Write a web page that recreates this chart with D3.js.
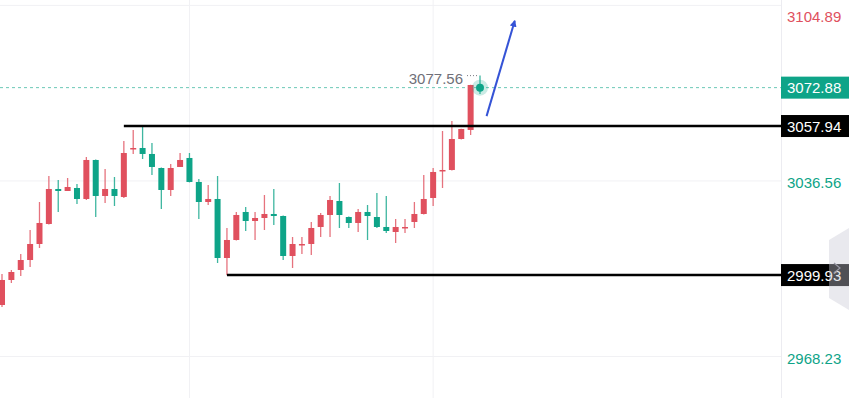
<!DOCTYPE html>
<html>
<head>
<meta charset="utf-8">
<script src="https://cdn.jsdelivr.net/npm/d3@7"></script>
<style>
  body { margin: 0; background: #fff; }
  svg { display: block; font-family: "Liberation Sans", Arial, sans-serif; }
</style>
</head>
<body>
<script>
// candle data (oldest -> newest)
var opens  = [2988.28, 2998.01, 3001.90, 3005.79, 3012.02, 3019.81, 3033.43, 3032.65, 3033.82, 3029.54,
              3044.72, 3030.71, 3033.43, 3030.32, 3049.20, 3049.39, 3047.06, 3041.60, 3033.04, 3042.00,
              3045.50, 3036.16, 3028.37, 3029.54, 3006.57, 3013.58, 3024.48, 3020.97, 3022.14, 3023.70,
              3022.92, 3007.35, 3011.82, 3012.02, 3018.64, 3023.31, 3028.76, 3022.53, 3020.20, 3024.48,
              3022.53, 3018.64, 3016.69, 3018.45, 3020.59, 3023.70, 3029.93, 3040.63, 3040.83, 3052.89,
              3056.40, 3073.91];
var closes = [2998.01, 3001.12, 3005.79, 3012.02, 3020.20, 3033.43, 3032.65, 3034.21, 3029.54, 3044.72,
              3030.71, 3033.43, 3030.71, 3047.44, 3049.39, 3047.06, 3042.00, 3033.04, 3041.60, 3044.72,
              3036.16, 3028.37, 3029.54, 3006.57, 3013.58, 3023.31, 3020.97, 3022.14, 3023.70, 3022.92,
              3007.35, 3012.02, 3012.02, 3018.25, 3023.31, 3029.15, 3023.31, 3020.20, 3024.48, 3022.92,
              3018.64, 3017.08, 3018.64, 3018.64, 3023.70, 3029.54, 3040.05, 3040.83, 3052.89, 3056.79,
              3073.91, 3072.88];
var highs  = [3000.34, 3001.90, 3008.13, 3017.47, 3028.37, 3038.49, 3036.93, 3037.71, 3035.38, 3045.89,
              3044.90, 3041.22, 3038.10, 3052.12, 3056.40, 3057.94, 3051.34, 3041.80, 3043.16, 3047.44,
              3047.44, 3037.32, 3034.99, 3038.49, 3018.25, 3024.48, 3026.42, 3024.48, 3031.10, 3033.43,
              3023.10, 3014.75, 3014.75, 3020.59, 3024.09, 3030.71, 3035.77, 3022.70, 3025.65, 3027.20,
              3031.87, 3030.71, 3021.75, 3021.75, 3028.37, 3038.88, 3041.60, 3056.01, 3059.90, 3056.90,
              3074.00, 3077.56];
var lows   = [2987.50, 2996.84, 2999.57, 3003.07, 3010.46, 3019.60, 3024.48, 3032.65, 3027.59, 3029.15,
              3022.53, 3027.98, 3026.81, 3029.93, 3047.06, 3045.11, 3038.88, 3025.65, 3030.71, 3042.00,
              3036.00, 3021.75, 3027.20, 3004.63, 2999.93, 3013.40, 3017.08, 3013.58, 3017.47, 3019.42,
              3005.79, 3002.68, 3008.13, 3007.74, 3014.75, 3014.75, 3018.25, 3018.25, 3016.69, 3013.58,
              3018.25, 3016.30, 3012.41, 3016.30, 3018.25, 3023.50, 3026.81, 3033.82, 3040.63, 3052.70,
              3054.45, 3070.41];

var axisTicks   = [2968.23, 3036.56, 3104.89];
var levels      = [3057.94, 2999.93];
var levelStarts = [13, 24];          // candle where each level line begins
var gridCandles = [20, 46];          // vertical grid lines
var lastPrice   = 3072.88;
var sessionHigh = 3077.56;
var arrowFrom   = [51.7, 3061.8];    // [candle index, price]
var arrowTo     = [54.7, 3098.8];

var W = 849, H = 398, plotRight = 781;
var UP = '#e0505e', DOWN = '#0ea488';

var svg = d3.select('body').append('svg')
    .attr('width', W)
    .attr('height', H);

var x = d3.scaleLinear().domain([0, opens.length - 1]).range([2, 480]);
var y = d3.scaleLinear().domain([2968.23, 3104.89]).range([356.5, 5.4]);
var bodyW = 6;

// grid
svg.selectAll('.hgrid').data(axisTicks).enter().append('line')
    .attr('x1', 0).attr('x2', plotRight)
    .attr('y1', function(d){ return y(d); }).attr('y2', function(d){ return y(d); })
    .attr('stroke', '#f1f1f4').attr('stroke-width', 1);

svg.selectAll('.vgrid').data(gridCandles).enter().append('line')
    .attr('x1', function(d){ return x(d); }).attr('x2', function(d){ return x(d); })
    .attr('y1', 0).attr('y2', H)
    .attr('stroke', '#f1f1f4').attr('stroke-width', 1);

// axis divider
svg.append('line')
    .attr('x1', plotRight + 0.5).attr('x2', plotRight + 0.5)
    .attr('y1', 0).attr('y2', H)
    .attr('stroke', '#ececf1');

// last price dashed line
svg.append('line')
    .attr('x1', 0).attr('x2', plotRight)
    .attr('y1', y(lastPrice)).attr('y2', y(lastPrice))
    .attr('stroke', '#6cc9b6').attr('stroke-width', 1)
    .attr('stroke-dasharray', '3,3');

// candles
var candles = svg.selectAll('.candle').data(opens).enter().append('g');

candles.append('line')
    .attr('x1', function(d, i){ return x(i); })
    .attr('x2', function(d, i){ return x(i); })
    .attr('y1', function(d, i){ return y(highs[i]); })
    .attr('y2', function(d, i){ return y(lows[i]); })
    .attr('stroke', function(d, i){ return closes[i] >= d ? UP : DOWN; })
    .attr('stroke-opacity', 0.8)
    .attr('stroke-width', 1.3);

candles.append('rect')
    .attr('x', function(d, i){ return x(i) - bodyW / 2; })
    .attr('y', function(d, i){ return y(Math.max(d, closes[i])); })
    .attr('width', bodyW)
    .attr('height', function(d, i){ return Math.max(1.5, Math.abs(y(d) - y(closes[i]))); })
    .attr('fill', function(d, i){ return closes[i] >= d ? UP : DOWN; });

// support / resistance lines
svg.selectAll('.level').data(levels).enter().append('line')
    .attr('x1', function(d, i){ return x(levelStarts[i]); })
    .attr('x2', plotRight)
    .attr('y1', function(d){ return y(d); }).attr('y2', function(d){ return y(d); })
    .attr('stroke', '#000').attr('stroke-width', 2.4);

// session high marker
var last = opens.length - 1;
svg.append('text')
    .attr('x', x(last) - 17)
    .attr('y', y(sessionHigh) + 8)
    .attr('text-anchor', 'end')
    .attr('font-size', 15)
    .attr('fill', '#6f6f78')
    .text(sessionHigh.toFixed(2));
svg.append('line')
    .attr('x1', x(last) - 13).attr('x2', x(last) - 1)
    .attr('y1', y(sessionHigh)).attr('y2', y(sessionHigh))
    .attr('stroke', '#7a7a82').attr('stroke-width', 1)
    .attr('stroke-dasharray', '1,2');

// pulsing dot on latest price
svg.append('circle')
    .attr('cx', x(last)).attr('cy', y(lastPrice))
    .attr('r', 8).attr('fill', DOWN).attr('fill-opacity', 0.22);
svg.append('circle')
    .attr('cx', x(last)).attr('cy', y(lastPrice))
    .attr('r', 4).attr('fill', DOWN);

// blue arrow
svg.append('defs').append('marker')
    .attr('id', 'arrowhead')
    .attr('viewBox', '0 0 10 10')
    .attr('refX', 8).attr('refY', 5)
    .attr('markerWidth', 7).attr('markerHeight', 7)
    .attr('markerUnits', 'userSpaceOnUse')
    .attr('orient', 'auto')
    .append('path')
    .attr('d', 'M0,0 L10,5 L0,10 Z')
    .attr('fill', '#3553d6');

svg.append('line')
    .attr('x1', x(arrowFrom[0])).attr('y1', y(arrowFrom[1]))
    .attr('x2', x(arrowTo[0])).attr('y2', y(arrowTo[1]))
    .attr('stroke', '#3553d6').attr('stroke-width', 2)
    .attr('marker-end', 'url(#arrowhead)');

// right axis tick labels
svg.selectAll('.tick').data(axisTicks).enter().append('text')
    .attr('x', plotRight + 6)
    .attr('y', function(d){ return Math.max(y(d) + 2, 17) + 5; })
    .attr('font-size', 15)
    .attr('fill', function(d){ return d > lastPrice ? UP : DOWN; })
    .text(function(d){ return d.toFixed(2); });

// price tags
function tag(value, bg) {
    svg.append('rect')
        .attr('x', plotRight).attr('y', y(value) - 11)
        .attr('width', W - plotRight).attr('height', 22)
        .attr('fill', bg);
    svg.append('text')
        .attr('x', plotRight + 6).attr('y', y(value) + 5.5)
        .attr('font-size', 15).attr('fill', '#fff')
        .text(value.toFixed(2));
}
tag(lastPrice, DOWN);
levels.forEach(function(v){ tag(v, '#000'); });

// collapse handle on the right edge
svg.append('path')
    .attr('d', 'M849,228 L829,240 L829,298 L849,310 Z')
    .attr('fill', '#c8c8d4').attr('fill-opacity', 0.4);
svg.append('path')
    .attr('d', 'M834,263 L840,268 L834,273')
    .attr('fill', 'none').attr('stroke', '#9a9aa6').attr('stroke-width', 1.2);
</script>
</body>
</html>
